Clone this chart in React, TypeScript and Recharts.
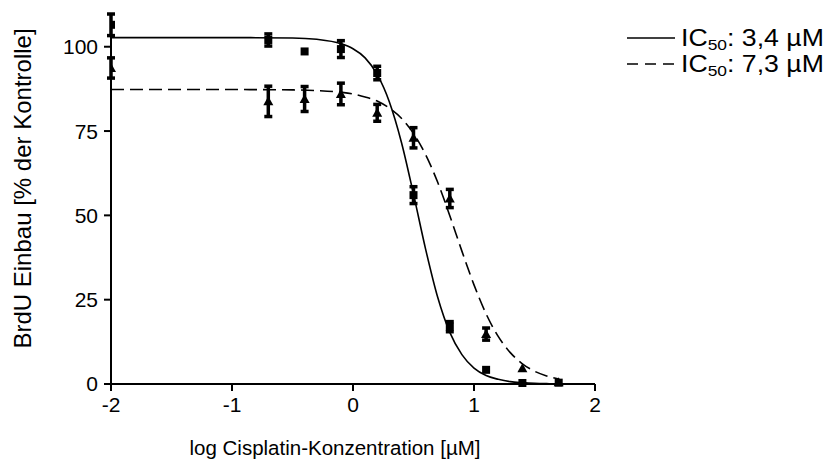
import React from "react";
import {
  ComposedChart,
  Line,
  Scatter,
  ErrorBar,
  XAxis,
  YAxis,
  Label,
} from "recharts";

// ---- data ----
const X_TICKS = [-2, -1, 0, 1, 2];
const Y_TICKS = [0, 25, 50, 75, 100];

const DOSES = [-2, -0.7, -0.4, -0.1, 0.2, 0.5, 0.8, 1.1, 1.4, 1.7];
const SQUARE_MEAN = [106.5, 102, 98.6, 99.3, 92.2, 56, 17, 4.2, 0.3, 0.4];
const SQUARE_ERR = [3.2, 1.8, 0, 2.5, 2, 2.5, 1.5, 0, 0, 0];
const TRIANGLE_MEAN = [93.7, 83.8, 84.5, 86, 80.4, 73, 55, 14.8, 4.7, 0.5];
const TRIANGLE_ERR = [3, 4.5, 3.7, 3.2, 2.5, 3, 2.7, 1.8, 0, 0];

// fitted curves
const FIT_X = [
  -2, -1, -0.5, -0.3, -0.1, 0, 0.1, 0.2, 0.3, 0.4, 0.5, 0.6, 0.7, 0.8, 0.9, 1.0,
  1.1, 1.2, 1.3, 1.4, 1.5, 1.6, 1.7,
];
const FIT_SOLID = [
  102.7, 102.7, 102.6, 102.2, 100.9, 99.4, 96.7, 91.8, 83.7, 71.7, 56.3, 40.0,
  25.7, 15.3, 8.7, 4.7, 2.5, 1.4, 0.7, 0.4, 0.2, 0.1, 0.05,
];
const FIT_DASHED = [
  87.3, 87.3, 87.2, 87.0, 86.5, 86.0, 85.1, 83.9, 81.8, 78.8, 74.3, 68.0, 59.8,
  49.9, 39.4, 29.4, 20.8, 14.1, 9.3, 6.0, 3.8, 2.4, 1.5,
];

const LEGEND_LABELS = [
  { pre: "IC", sub: "50", post: ": 3,4 µM", dash: undefined as string | undefined },
  { pre: "IC", sub: "50", post: ": 7,3 µM", dash: "11 7" },
];

const X_LABEL = "log Cisplatin-Konzentration [µM]";
const Y_LABEL = "BrdU Einbau [% der Kontrolle]";

const squares = DOSES.map((x, i) => ({ x, y: SQUARE_MEAN[i], err: SQUARE_ERR[i] }));
const triangles = DOSES.map((x, i) => ({ x, y: TRIANGLE_MEAN[i], err: TRIANGLE_ERR[i] }));
const solidFit = FIT_X.map((x, i) => ({ x, y: FIT_SOLID[i] }));
const dashedFit = FIT_X.map((x, i) => ({ x, y: FIT_DASHED[i] }));

const FONT = "'Liberation Sans', Arial, Helvetica, sans-serif";
const W = 828;
const H = 458;

const SquareShape = (p: any) => {
  if (p.cx == null || p.cy == null) return null;
  return <rect x={p.cx - 4} y={p.cy - 4} width={8} height={8} fill="#000" />;
};
const TriangleShape = (p: any) => {
  if (p.cx == null || p.cy == null) return null;
  const s = 5;
  return (
    <polygon
      points={`${p.cx},${p.cy - s} ${p.cx - s},${p.cy + s - 1} ${p.cx + s},${p.cy + s - 1}`}
      fill="#000"
    />
  );
};

export default function App() {
  return (
    <div style={{ position: "relative", width: W, height: H, fontFamily: FONT }}>
      <ComposedChart
        width={W}
        height={H}
        margin={{ top: 5, right: 241, bottom: 0, left: 0 }}
        style={{ fontFamily: FONT }}
      >
        <XAxis
          type="number"
          dataKey="x"
          domain={[-2, 2]}
          ticks={X_TICKS}
          allowDataOverflow
          height={82}
          stroke="#000"
          strokeWidth={2}
          tickSize={7}
          tickMargin={6}
          tick={{ fill: "#000", fontSize: 21, fontFamily: FONT }}
        >
          <Label
            content={(props: any) => {
              const vb = props.viewBox || {};
              return (
                <text
                  x={vb.x + vb.width / 2 - 18}
                  y={vb.y + 71}
                  textAnchor="middle"
                  fontSize={20.5}
                  fontFamily={FONT}
                  fill="#000"
                >
                  {X_LABEL}
                </text>
              );
            }}
          />
        </XAxis>
        <YAxis
          type="number"
          domain={[0, 110]}
          ticks={Y_TICKS}
          width={103}
          stroke="#000"
          strokeWidth={2}
          tickSize={7}
          tickMargin={6}
          tick={{ fill: "#000", fontSize: 21, fontFamily: FONT }}
        >
          <Label
            content={(props: any) => {
              const vb = props.viewBox || {};
              const cx = 14;
              const cy = vb.y + vb.height / 2 - 10;
              return (
                <text
                  x={cx}
                  y={cy}
                  transform={`rotate(-90, ${cx}, ${cy})`}
                  textAnchor="middle"
                  dominantBaseline="central"
                  fontSize={24}
                  fontFamily={FONT}
                  fill="#000"
                >
                  {Y_LABEL}
                </text>
              );
            }}
          />
        </YAxis>
        <Line
          data={solidFit}
          dataKey="y"
          type="monotone"
          stroke="#000"
          strokeWidth={1.6}
          dot={false}
          activeDot={false}
          isAnimationActive={false}
        />
        <Line
          data={dashedFit}
          dataKey="y"
          type="monotone"
          stroke="#000"
          strokeWidth={1.6}
          strokeDasharray="13 6"
          dot={false}
          activeDot={false}
          isAnimationActive={false}
        />
        <Scatter data={squares} dataKey="y" shape={SquareShape} isAnimationActive={false}>
          <ErrorBar dataKey="err" direction="y" width={4} strokeWidth={3.5} stroke="#000" />
        </Scatter>
        <Scatter data={triangles} dataKey="y" shape={TriangleShape} isAnimationActive={false}>
          <ErrorBar dataKey="err" direction="y" width={4} strokeWidth={3.5} stroke="#000" />
        </Scatter>
      </ComposedChart>
      <svg
        width={W}
        height={H}
        style={{ position: "absolute", left: 0, top: 0, pointerEvents: "none" }}
      >
        {LEGEND_LABELS.map((l, i) => {
          const y = 30 + i * 26;
          return (
            <g key={i}>
              <line
                x1={619}
                x2={667}
                y1={y}
                y2={y}
                stroke="#000"
                strokeWidth={1.6}
                strokeDasharray={l.dash}
              />
              <g transform={`translate(673, ${y + 8}) scale(1.16, 1)`}>
                <text x={0} y={0} fontSize={23} fontFamily={FONT} fill="#000">
                  {l.pre}
                  <tspan fontSize={15} dy={4}>
                    {l.sub}
                  </tspan>
                  <tspan dy={-4}>{l.post}</tspan>
                </text>
              </g>
            </g>
          );
        })}
      </svg>
    </div>
  );
}
